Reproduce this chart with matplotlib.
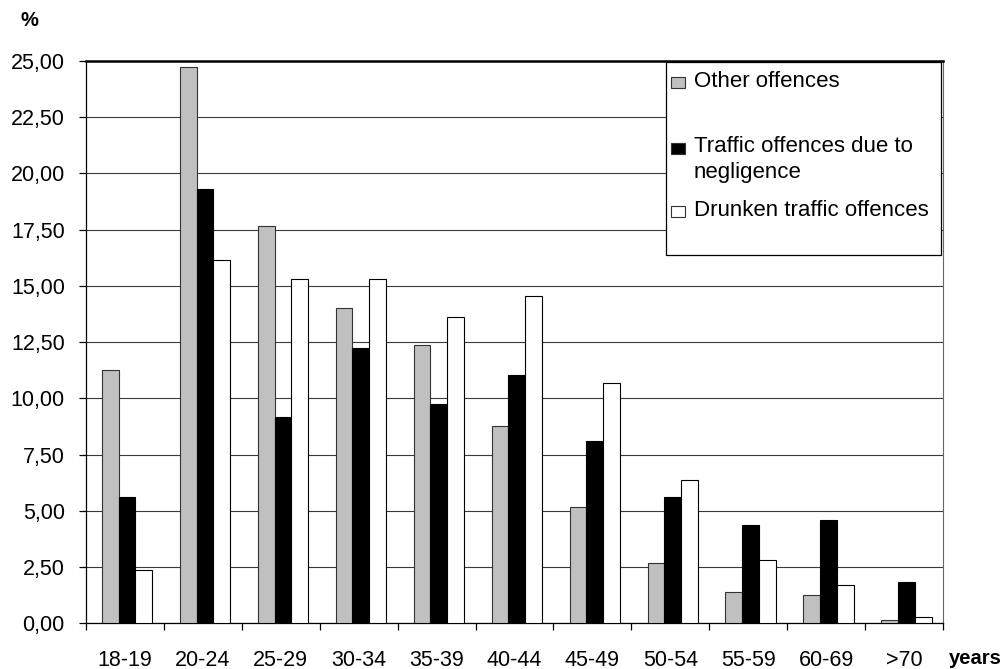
import matplotlib
matplotlib.use("Agg")
import matplotlib.pyplot as plt
from matplotlib.patches import Rectangle
from matplotlib.ticker import FixedLocator, FuncFormatter
import numpy as np

plt.rcParams['font.family'] = ['Liberation Sans', 'DejaVu Sans']

age_groups = ['18-19', '20-24', '25-29', '30-34', '35-39', '40-44',
              '45-49', '50-54', '55-59', '60-69', '>70']
other_offences = [11.25, 24.72, 17.65, 14.04, 12.37, 8.76, 5.15, 2.67, 1.41, 1.26, 0.15]
negligence = [5.60, 19.31, 9.17, 12.24, 9.75, 11.02, 8.10, 5.60, 4.35, 4.61, 1.84]
drunken = [2.35, 16.17, 15.31, 15.31, 13.64, 14.57, 10.70, 6.35, 2.80, 1.70, 0.27]

series_labels = ['Other offences', 'Traffic offences due to\nnegligence',
                 'Drunken traffic offences']
series_colors = ['#c0c0c0', '#000000', '#ffffff']

W, H = 1003, 669
fig = plt.figure(figsize=(W / 100, H / 100), dpi=100)

# axes box in pixel units
left, right, top, bottom = 85.7, 943.3, 61.0, 623.3
ax = fig.add_axes([left / W, 1 - bottom / H, (right - left) / W, (bottom - top) / H])

x = np.arange(len(age_groups))
bw = 0.216
shift = 0.03
for i, (vals, col) in enumerate(zip([other_offences, negligence, drunken], series_colors)):
    ax.bar(x + shift + (i - 1) * bw, vals, width=bw, color=col,
           edgecolor='#000000' if i else '#333333', linewidth=0.8, zorder=3)

ax.set_xlim(-0.5, len(age_groups) - 0.5)
ax.set_ylim(0, 25)

# y axis
yt = np.arange(0, 25.01, 2.5)
ax.set_yticks(yt)
ax.yaxis.set_major_formatter(FuncFormatter(lambda v, p: f'{v:.2f}'.replace('.', ',')))
ax.tick_params(axis='y', direction='out', length=5, width=0.9, pad=10, labelsize=15.5)
ax.yaxis.grid(True, color='#3a3a3a', linewidth=0.8, zorder=0)
ax.set_axisbelow(True)

# x axis: ticks on category boundaries, labels on centres
ax.xaxis.set_major_locator(FixedLocator(np.arange(-0.5, len(age_groups), 1.0)))
ax.xaxis.set_minor_locator(FixedLocator(x))
ax.xaxis.set_major_formatter(FuncFormatter(lambda v, p: ''))
ax.set_xticklabels(age_groups, minor=True)
ax.tick_params(axis='x', which='major', direction='out', length=5, width=0.9)
ax.tick_params(axis='x', which='minor', length=0, pad=19, labelsize=15.5)

for s in ['left', 'bottom']:
    ax.spines[s].set_color('#000000')
    ax.spines[s].set_linewidth(0.9)
ax.spines['top'].set_color('#000000')
ax.spines['top'].set_linewidth(1.8)
ax.spines['right'].set_color('#666666')
ax.spines['right'].set_linewidth(0.8)

fig.text(29 / W, 1 - 20 / H, '%', fontsize=14.5, fontweight='bold', ha='center', va='center')
fig.text(949 / W, 1 - 658 / H, 'years', fontsize=14.5, fontweight='bold', ha='left', va='center')


def fx(px):
    return px / W


def fy(py):
    return 1 - py / H


# legend box
fig.patches.append(Rectangle((fx(666), fy(255)), fx(941) - fx(666), fy(61.5) - fy(255),
                             transform=fig.transFigure, facecolor='white',
                             edgecolor='#000000', linewidth=0.9, zorder=5))
marker_y = [82.5, 148, 212]
for lab, col, yy in zip(series_labels, series_colors, marker_y):
    fig.patches.append(Rectangle((fx(671.5), fy(yy + 5.5)), fx(685) - fx(671.5), fy(yy - 5.5) - fy(yy + 5.5),
                                 transform=fig.transFigure, facecolor=col,
                                 edgecolor='#333333', linewidth=0.8, zorder=6))
    fig.text(fx(694), fy(yy - 11.5), lab, fontsize=16, ha='left', va='top',
             linespacing=1.28, zorder=7)

fig.savefig('out.png', dpi=100)
